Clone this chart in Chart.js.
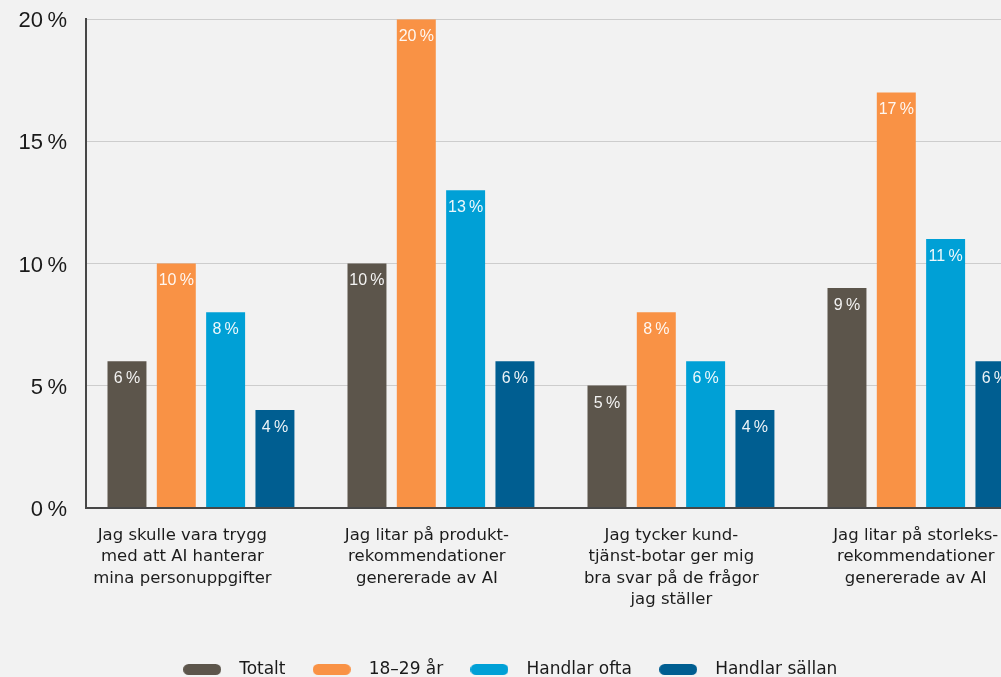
<!DOCTYPE html>
<html>
<head>
<meta charset="utf-8">
<script src="https://cdn.jsdelivr.net/npm/chart.js@4.4.1/dist/chart.umd.min.js"></script>
<style>
  html, body { margin: 0; padding: 0; background: #f2f2f2; overflow: hidden; width: 1001px; height: 677px; }
  canvas { display: block; }
</style>
</head>
<body>
<canvas id="chart" width="1011" height="690"></canvas>
<script>
// ---- data ----
const categories = [
  ["Jag skulle vara trygg", "med att AI hanterar", "mina personuppgifter"],
  ["Jag litar på produkt-", "rekommendationer", "genererade av AI"],
  ["Jag tycker kund-", "tjänst-botar ger mig", "bra svar på de frågor", "jag ställer"],
  ["Jag litar på storleks-", "rekommendationer", "genererade av AI"]
];
const seriesNames = ["Totalt", "18–29 år", "Handlar ofta", "Handlar sällan"];
const totalt = [6, 10, 5, 9];
const age18to29 = [10, 20, 8, 17];
const handlarOfta = [8, 13, 6, 11];
const handlarSallan = [4, 6, 4, 6];
const yTickValues = [0, 5, 10, 15, 20];

// ---- styles ----
const seriesColors = ["#5c554b", "#f99245", "#00a0d6", "#005e91"];
const seriesValues = [totalt, age18to29, handlarOfta, handlarSallan];

function pill(color) {
  const c = document.createElement('canvas');
  c.width = 38; c.height = 11;
  const g = c.getContext('2d');
  g.fillStyle = color;
  g.beginPath();
  g.arc(5.5, 5.5, 5.5, Math.PI / 2, Math.PI * 1.5);
  g.arc(32.5, 5.5, 5.5, -Math.PI / 2, Math.PI / 2);
  g.closePath();
  g.fill();
  return c;
}
const pills = seriesColors.map(pill);

const datasets = seriesNames.map((name, i) => ({
  label: name,
  data: seriesValues[i].map((v, j) => ({ x: j, y: v })),
  backgroundColor: seriesColors[i],
  borderWidth: 0,
  categoryPercentage: 0.822,
  barPercentage: 0.79
}));

const categoryTicks = s => { s.ticks = categories.map((_, i) => ({ value: i })); };

const valueLabels = {
  id: 'valueLabels',
  afterDatasetsDraw(chart) {
    const ctx = chart.ctx;
    ctx.save();
    ctx.font = '16px "Liberation Sans", Arial, sans-serif';
    ctx.fillStyle = 'rgba(255,255,255,0.93)';
    ctx.textAlign = 'center';
    ctx.textBaseline = 'middle';
    chart.data.datasets.forEach((ds, i) => {
      const meta = chart.getDatasetMeta(i);
      meta.data.forEach((el, j) => {
        ctx.fillText(ds.data[j].y + '\u2009%', el.x, el.y + 17.5);
      });
    });
    ctx.restore();
  }
};

new Chart(document.getElementById('chart'), {
  type: 'bar',
  data: { datasets },
  plugins: [valueLabels],
  options: {
    responsive: false,
    animation: false,
    layout: { padding: { top: 19.3, bottom: 2, left: 0, right: 0 } },
    scales: {
      x: {
        type: 'linear',
        position: 'bottom',
        weight: 0,
        bounds: 'data',
        offset: false,
        min: -0.479,
        max: 3.3752,
        grid: { display: false, drawTicks: false, offset: false },
        border: { display: true, color: '#474747', width: 2, z: 1 },
        ticks: { display: false },
        afterBuildTicks: categoryTicks,
        afterFit: s => { s.height = 0; }
      },
      xl: {
        type: 'linear',
        position: 'bottom',
        weight: 1,
        bounds: 'data',
        offset: false,
        min: -0.3944,
        max: 3.3896,
        grid: { display: false, drawTicks: false, offset: false },
        border: { display: false },
        afterBuildTicks: categoryTicks,
        ticks: {
          autoSkip: false,
          maxRotation: 0,
          minRotation: 0,
          padding: 17,
          color: '#1c1c1c',
          font: { family: '"DejaVu Sans", sans-serif', size: 16.5, lineHeight: 1.3 },
          callback: v => categories[v]
        },
        afterFit: s => { s.height = 135.6; s.paddingLeft = 0; s.paddingRight = 0; }
      },
      y: {
        min: yTickValues[0],
        max: yTickValues[yTickValues.length - 1],
        grid: { color: '#cdcdcd', lineWidth: 1, drawTicks: false },
        border: { display: true, color: '#474747', width: 2 },
        ticks: {
          stepSize: yTickValues[1] - yTickValues[0],
          padding: 19,
          labelOffset: 2,
          color: '#1a1a1a',
          font: { family: '"Liberation Sans", Arial, sans-serif', size: 22 },
          callback: v => v + '\u2009%'
        },
        afterFit: s => { s.width = 86; s.paddingTop = 0; s.paddingBottom = 0; }
      }
    },
    plugins: {
      tooltip: { enabled: false },
      legend: {
        position: 'bottom',
        labels: {
          usePointStyle: true,
          pointStyleWidth: 57,
          boxHeight: 10,
          padding: 17.7,
          color: '#1a1a1a',
          font: { family: '"DejaVu Sans", sans-serif', size: 17 },
          generateLabels: chart => chart.data.datasets.map((ds, i) => ({
            text: ds.label,
            fillStyle: ds.backgroundColor,
            strokeStyle: ds.backgroundColor,
            lineWidth: 0,
            pointStyle: pills[i],
            hidden: !chart.isDatasetVisible(i),
            datasetIndex: i,
            fontColor: '#1a1a1a'
          }))
        }
      }
    }
  }
});
</script>
</body>
</html>
